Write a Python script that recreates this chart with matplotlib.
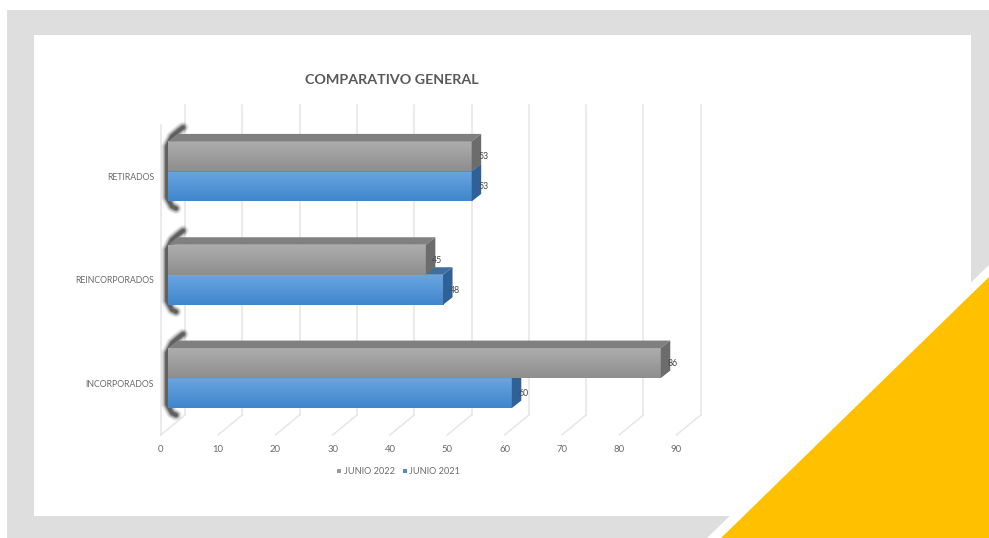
import numpy as np
import matplotlib
matplotlib.use("Agg")
import matplotlib.pyplot as plt
from matplotlib.patches import Polygon, Rectangle
from matplotlib.transforms import Affine2D

W, H = 989, 538

categories = ["INCORPORADOS", "REINCORPORADOS", "RETIRADOS"]
junio_2022 = [86, 45, 53]
junio_2021 = [60, 48, 53]
x_ticks = [0, 10, 20, 30, 40, 50, 60, 70, 80, 90]

plt.rcParams['font.family'] = ['Lato', 'DejaVu Sans']
TXT = '#6a6a6a'

fig = plt.figure(figsize=(W / 100, H / 100), dpi=100, facecolor='white')

# ---- fondo: marco gris, panel blanco, triangulo amarillo (en pixeles)
bg = fig.add_axes([0, 0, 1, 1])
bg.set_xlim(0, W)
bg.set_ylim(H, 0)
bg.axis('off')
bg.add_patch(Rectangle((7, 10), W - 7, H - 10, color='#dedede', lw=0))
bg.add_patch(Rectangle((34, 35), 937, 481, color='white', lw=0))
bg.add_patch(Polygon([(707, H), (W, 265), (W, H)], color='white', lw=0))
bg.add_patch(Polygon([(721, H), (W, 277), (W, H)], color='#FFC000', lw=0))

# ---- ejes del plano de las barras
L, R, T, B = 168, 683.7, 119.75, 429.75
ax = fig.add_axes([L / W, 1 - B / H, (R - L) / W, (B - T) / H])
ax.set_xlim(0, 90)
ax.set_ylim(-0.5, 2.5)
ax.patch.set_alpha(0)
for s in ax.spines.values():
    s.set_visible(False)

PX = 90 / (R - L)       # unidades x por pixel
PY = 3 / (B - T)        # unidades y por pixel
BAR_H = 30 * PY
DX, DY = 9.5 * PX, 7.5 * PY     # profundidad de la barra

# paredes y suelo
FX, FY = -7.3 * PX, -5.25 * PY
BX, BY = 17 * PX, 14.75 * PY
GRID = '#e6e6e6'
for t in x_ticks:
    ax.plot([t + BX, t + BX], [-0.5 + BY, 2.5 + BY], color=GRID, lw=1.1, clip_on=False, zorder=1)
    ax.plot([t + FX, t + BX], [-0.5 + FY, -0.5 + BY], color=GRID, lw=1.1, clip_on=False, zorder=1)
ax.plot([FX, FX], [-0.5 + FY, 2.5 + FY], color=GRID, lw=1.1, clip_on=False, zorder=1)

y = np.arange(len(categories))


def draw_bar(val, y0, top_c, bot_c, top_face, side_face, z):
    # cara frontal con degradado
    grad = np.linspace(0, 1, 64)[:, None, None]
    c0 = np.array(matplotlib.colors.to_rgb(top_c))[None, None, :]
    c1 = np.array(matplotlib.colors.to_rgb(bot_c))[None, None, :]
    ax.imshow(c0 * (1 - grad) + c1 * grad, extent=(0, val, y0, y0 + BAR_H),
              aspect='auto', zorder=z, origin='upper')
    y1 = y0 + BAR_H
    ax.add_patch(Polygon([(0, y1), (DX, y1 + DY), (val + DX, y1 + DY), (val, y1)],
                         color=top_face, lw=0, zorder=z, clip_on=False))
    ax.add_patch(Polygon([(val, y0), (val + DX, y0 + DY), (val + DX, y1 + DY), (val, y1)],
                         color=side_face, lw=0, zorder=z, clip_on=False))


for i in y:
    # sombra oscura en la base, difuminada con trazos superpuestos
    sx = np.array([15, 11, 4, -1, -1, 4, 8]) * PX
    sy = i + np.array([44, 41, 35, 25, -26, -35, -37]) * PY
    for lw, a in zip([8, 6.5, 5, 3.8, 2.6], [0.1, 0.15, 0.22, 0.32, 0.5]):
        ax.plot(sx, sy, color='#3a3a3a', lw=lw, alpha=a, clip_on=False,
                solid_capstyle='round', solid_joinstyle='round', zorder=2)

    draw_bar(junio_2021[i], i - BAR_H, '#69a5e0', '#3f86cb', '#3f6f9f', '#2f6096', 3)
    draw_bar(junio_2022[i], i, '#adadad', '#8e8e8e', '#808080', '#6c6c6c', 4)

    ax.text(junio_2022[i] + 11.5 * PX, i + BAR_H / 2 - 0.5 * PY, str(junio_2022[i]),
            ha='center', va='center', fontsize=6.3, color='#484848', zorder=6)
    ax.text(junio_2021[i] + 11.5 * PX, i - BAR_H / 2 - 0.5 * PY, str(junio_2021[i]),
            ha='center', va='center', fontsize=6.3, color='#484848', zorder=6)

ax.set_xlim(0, 90)
ax.set_ylim(-0.5, 2.5)

ax.set_yticks(y, categories, fontsize=6.3, color=TXT)
ax.set_xticks(x_ticks, [str(t) for t in x_ticks], fontsize=6.8, color=TXT)
ax.tick_params(length=0)
ax.tick_params(axis='y', pad=10)
ax.tick_params(axis='x', pad=11)
for lab in ax.get_xticklabels():
    lab.set_transform(lab.get_transform() + Affine2D().translate(-7.3, 0))
for lab in ax.get_yticklabels():
    lab.set_transform(lab.get_transform() + Affine2D().translate(0, -5))

# ---- titulo y leyenda
bg.text(391.5, 80.5, "COMPARATIVO GENERAL", ha='center', va='center', fontsize=10.3,
        fontweight='bold', color='#595959')
bg.add_patch(Rectangle((337, 469), 4, 4, color='#9a9a9a', lw=0))
bg.text(343.5, 471, "JUNIO 2022", ha='left', va='center', fontsize=6.6, color=TXT)
bg.add_patch(Rectangle((402.5, 469), 4, 4, color='#4a8fd2', lw=0))
bg.text(409, 471, "JUNIO 2021", ha='left', va='center', fontsize=6.6, color=TXT)

fig.savefig("out.png", dpi=100)
